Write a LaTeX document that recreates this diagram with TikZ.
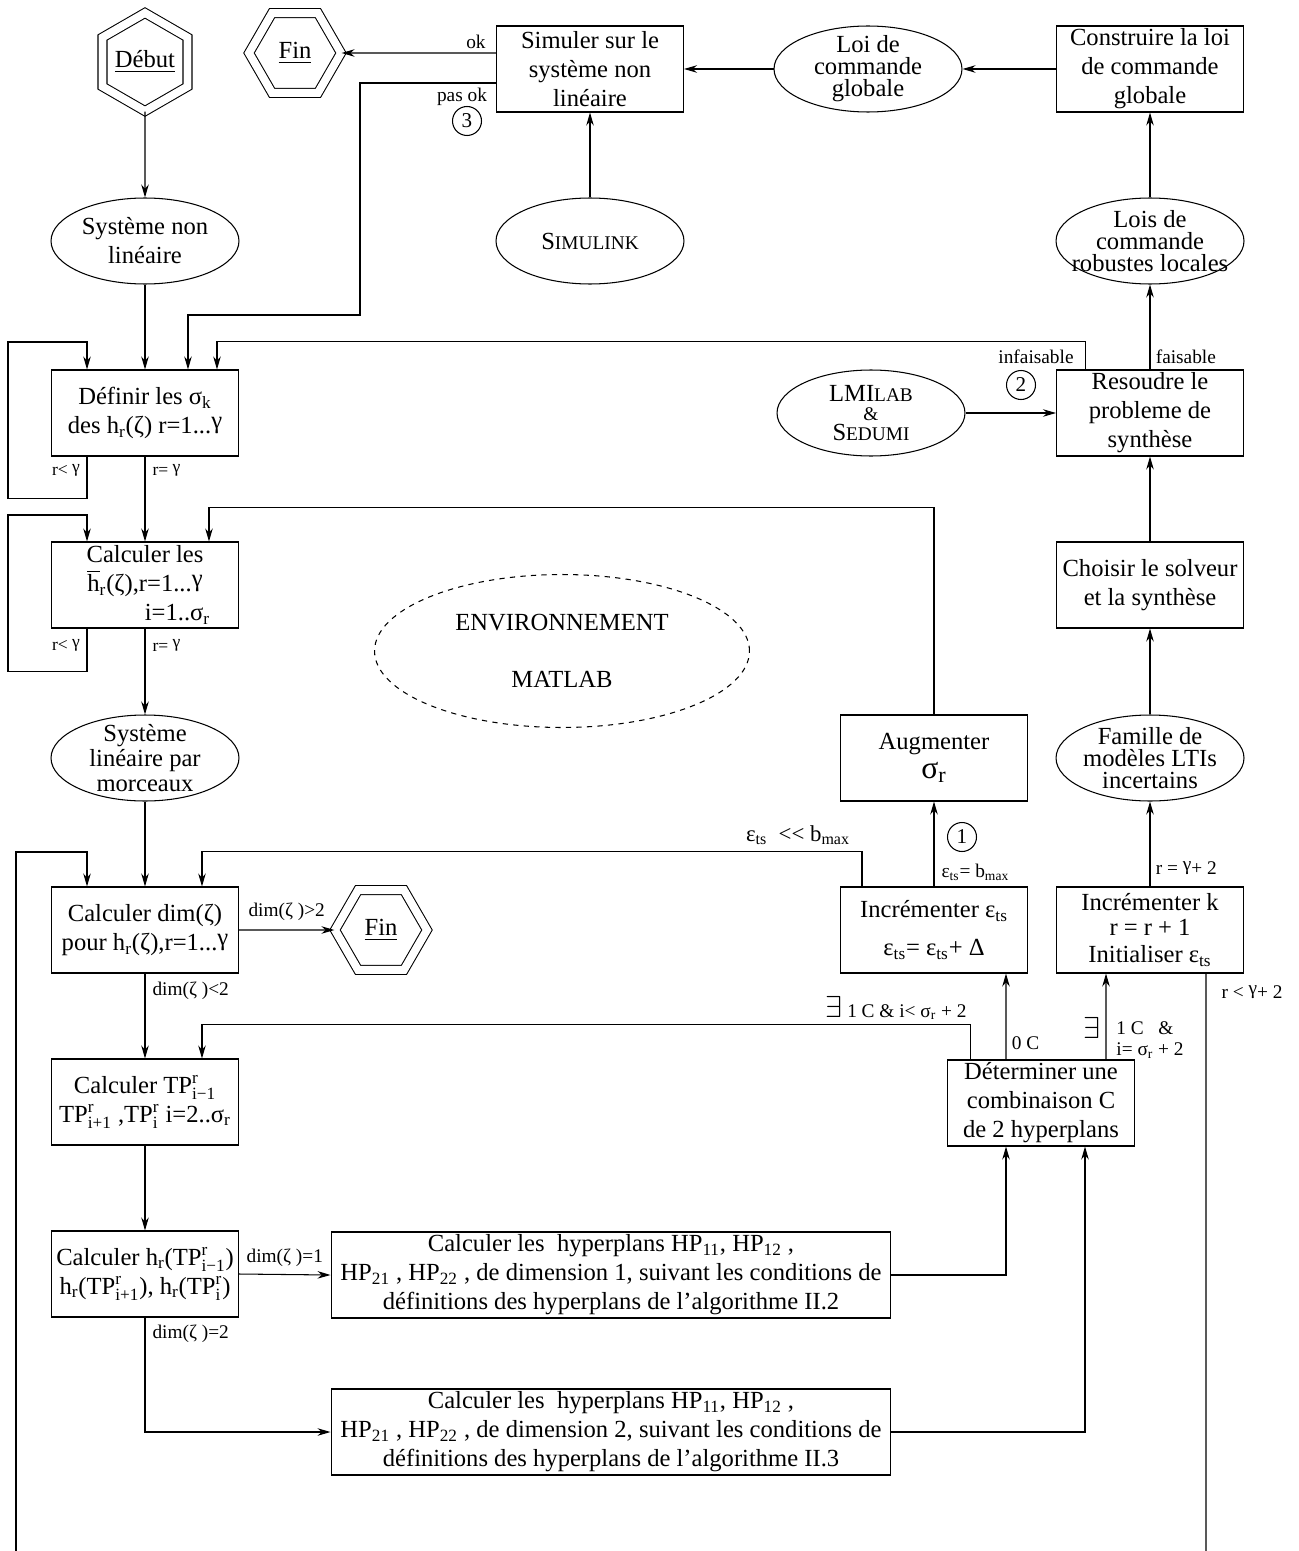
\documentclass[tikz,border=0pt]{standalone}
\usepackage{fontspec}
\usepackage{amsmath}
\setmainfont{Liberation Serif}
\usetikzlibrary{shapes.geometric,arrows.meta}

\newcommand\ud[2]{\ensuremath{^{\text{#1}}_{\text{#2}}}}
\newcommand\gam{\raisebox{.45ex}{γ}}

\tikzset{
  boite/.style={draw,rectangle,minimum width=3.74cm,minimum height=1.72cm,inner sep=1pt,align=center,font=\fontsize{14}{16.5}\selectfont},
  ovale/.style={draw,ellipse,minimum width=3.76cm,minimum height=1.72cm,inner sep=0pt},
  dedans/.style={align=center,inner sep=0pt,font=\fontsize{14}{16.5}\selectfont},
  serre/.style={dedans,font=\fontsize{14}{12.5}\selectfont},
  hexa/.style={draw,regular polygon,regular polygon sides=6,double,double distance=4.5pt,inner sep=0pt,font=\fontsize{14}{16.5}\selectfont},
  fleche/.style={-{Stealth[length=2.6mm,width=1.5mm]}},
  lbl/.style={inner sep=0pt,font=\fontsize{11}{12}\selectfont},
  petit/.style={inner sep=0pt,font=\fontsize{10}{11}\selectfont},
  rond/.style={draw,circle,minimum size=0.58cm,inner sep=0pt,font=\fontsize{12}{12}\selectfont},
}

\begin{document}
\begin{tikzpicture}[x=0.02cm,y=-0.02cm,line width=0.6pt]
\useasboundingbox (0,0) rectangle (1298,1551);

\draw (145,62) node[hexa,minimum size=1.88cm,shape border rotate=90](debut){\underline{Début}}
      (295,53) node[hexa,minimum size=1.84cm](fintop){\underline{Fin}};
\draw (590,69) node[boite](simul){Simuler sur le\\système non\\linéaire}
      (868,69) node[ovale,label={[serre]center:{Loi de\\commande\\globale}}](loi){}
      (1150,69) node[boite](constr){Construire la loi\\de commande\\globale};

\draw (145,241) node[ovale,label={[dedans]center:{Système non\\linéaire}}](sysnl){}
      (590,241) node[ovale,label={[dedans]center:{S{\fontsize{11}{12}\selectfont IMULINK}}}](simulink){}
      (1150,241) node[ovale,label={[serre]center:{Lois de\\commande\\robustes locales}}](lois){};

\draw (145,413) node[boite](definir){Définir les σ\textsubscript{k}\\des h\textsubscript{r}(ζ) r=1...\gam}
      (871,413) node[ovale,label={[dedans,font=\fontsize{14}{11}\selectfont]center:{LMI{\fontsize{11}{12}\selectfont LAB}\\{\fontsize{11}{12}\selectfont\&}\\S{\fontsize{11}{12}\selectfont EDUMI}}}](lmi){}
      (1150,413) node[boite](resoudre){Resoudre le\\probleme de\\synthèse};

\draw (145,585) node[boite](calc){Calculer les\\\ensuremath{\overline{\text{h}}}\textsubscript{r}(ζ),r=1...\gam\\\hspace*{1.3cm}i=1..σ\textsubscript{r}}
      (1150,585) node[boite](choisir){Choisir le solveur\\et la synthèse}
      (562,651) node[draw,dashed,ellipse,minimum width=7.5cm,minimum height=3.06cm,dedans](env){ENVIRONNEMENT\\[0.55cm]MATLAB};

\draw (145,758) node[ovale,label={[dedans,font=\fontsize{14}{14}\selectfont]center:{Système\\linéaire par\\morceaux}}](syslin){}
      (934,758) node[boite](augm){Augmenter\\{\fontsize{18}{18}\selectfont σ\textsubscript{r}}}
      (1150,758) node[ovale,label={[serre]center:{Famille de\\modèles LTIs\\incertains}}](famille){};

\draw (145,930) node[boite](calcdim){Calculer dim(ζ)\\pour h\textsubscript{r}(ζ),r=1...\gam}
      (381,930) node[hexa,minimum size=1.84cm](finbas){\underline{Fin}}
      (934,930) node[boite](incr){Incrémenter ε\textsubscript{ts}\\[5pt]ε\textsubscript{ts}= ε\textsubscript{ts}+ Δ}
      (1150,930) node[boite](incrk){Incrémenter k\\[-2pt]r = r + 1\\[-1pt]Initialiser ε\textsubscript{ts}};

\draw (145,1102) node[boite](tp){Calculer TP\ud{r}{i−1}\\TP\ud{r}{i+1} ,TP\ud{r}{i}\ i=2..σ\textsubscript{r}}
      (1041,1103) node[boite](determ){Déterminer une\\combinaison C\\de 2 hyperplans};

\draw (145,1274) node[boite](hr){Calculer h\textsubscript{r}(TP\ud{r}{i−1})\\h\textsubscript{r}(TP\ud{r}{i+1}), h\textsubscript{r}(TP\ud{r}{i})}
      (611,1275) node[boite,minimum width=11.2cm](hyp1){Calculer les\ \ hyperplans HP\textsubscript{11}, HP\textsubscript{12} ,\\HP\textsubscript{21} , HP\textsubscript{22} , de dimension 1, suivant les conditions de\\définitions des hyperplans de l’algorithme II.2}
      (611,1432) node[boite,minimum width=11.2cm](hyp2){Calculer les\ \ hyperplans HP\textsubscript{11}, HP\textsubscript{12} ,\\HP\textsubscript{21} , HP\textsubscript{22} , de dimension 2, suivant les conditions de\\définitions des hyperplans de l’algorithme II.3};

\path[fleche]
    (debut.south) edge (sysnl.north)
    (sysnl.south) edge (definir.north)
    (simulink.north) edge (simul.south)
    (loi.west) edge (simul.east)
    (constr.west) edge (loi.east)
    (lois.north) edge (constr.south)
    (resoudre.north) edge node[lbl,pos=0.15,right=3pt]{faisable} (lois.south)
    (lmi.east) edge (resoudre.west)
    (choisir.north) edge (resoudre.south)
    (famille.north) edge (choisir.south)
    (incrk.north) edge node[lbl,pos=0.22,right=3pt]{r = \gam+ 2} (famille.south)
    (incr.north) edge node[lbl,pos=0.17,right=4pt]{ε\textsubscript{ts}= b\textsubscript{max}} (augm.south)
    (definir.south) edge node[petit,pos=0.16,right=4pt]{r= \gam} (calc.north)
    (calc.south) edge node[petit,pos=0.2,right=4pt]{r= \gam} (syslin.north)
    (syslin.south) edge (calcdim.north)
    (calcdim.east) edge node[lbl,above=5pt]{dim(ζ )>2} (finbas.west)
    (calcdim.south) edge node[lbl,pos=0.2,right=4pt]{dim(ζ )<2} (tp.north)
    (tp.south) edge (hr.north)
    (hr.east) edge node[lbl,above=4pt]{dim(ζ )=1} (hyp1.west)
    ([xshift=-0.7cm]determ.north) edge node[lbl,pos=0.19,right=3pt]{0 C} ([xshift=1.44cm]incr.south)
    ([xshift=1.3cm]determ.north) edge ([xshift=-0.88cm]incrk.south);

\draw[fleche] (simul.west |- fintop) -- node[lbl,pos=0.13,above=2pt]{ok} (fintop.east);
\draw[fleche] ([yshift=-0.28cm]simul.west) -| (360,315) -| ([xshift=0.86cm]definir.north);
\draw[fleche] ([xshift=-1.3cm]resoudre.north) -- ++(0,-28) -| ([xshift=1.44cm]definir.north);
\draw[fleche] ([xshift=-1.16cm]definir.south) -- ++(0,42) -| (8,342) -| ([xshift=-1.16cm]definir.north);
\draw[fleche] ([xshift=-1.16cm]calc.south) -- ++(0,43) -| (8,515) -| ([xshift=-1.16cm]calc.north);
\draw[fleche] (augm.north) -- ++(0,-207) -| ([xshift=1.28cm]calc.north);
\coordinate (basg) at (16,1551);
\coordinate (basd) at (1206,1551);
\draw[fleche] (basg) -- (16,852) -| ([xshift=-1.16cm]calcdim.north);
\draw[fleche] ([xshift=-1.44cm]incr.north) -- ++(0,-35) -| ([xshift=1.14cm]calcdim.north);
\draw[fleche] ([xshift=-1.42cm]determ.north) -- ++(0,-35) -| ([xshift=1.14cm]tp.north);
\draw ([xshift=1.12cm]incrk.south) -- (basd);
\draw[fleche] (hr.south) |- node[lbl,pos=0.07,right=4pt]{dim(ζ )=2} (hyp2.west);
\draw[fleche] (hyp1.east) -| ([xshift=-0.7cm]determ.south);
\draw[fleche] (hyp2.east) -| ([xshift=0.88cm]determ.south);

\node[lbl] (pasok) at (462,97) {pas ok};
\node[rond] (trois) at (467,121) {3};
\node[lbl] (infais) at (1036,357) {infaisable};
\node[rond] (deux) at (1021,385) {2};
\node[petit] (rinf1) at (66,470) {r< \gam};
\node[petit] (rinf2) at (66,645) {r< \gam};
\node[rond] (un) at (962,837) {1};
\node[font=\fontsize{13}{13}\selectfont,inner sep=0pt] (epsb) at (798,835) {ε\textsubscript{ts}\ \ <{}< b\textsubscript{max}};
\node[lbl] (rinfk) at (1252,992) {r < \gam+ 2};
\node[lbl] (existe1) at (896,1008) {{\fontsize{18}{18}\selectfont$\exists$} 1 C \& i< σ\textsubscript{r} + 2};
\node[lbl] (existe2) at (1092,1028) {\fontsize{18}{18}\selectfont$\exists$};
\node[lbl,align=left] (cond) at (1150,1040) {1 C \ \ \&\\i= σ\textsubscript{r} + 2};
\end{tikzpicture}
\end{document}
